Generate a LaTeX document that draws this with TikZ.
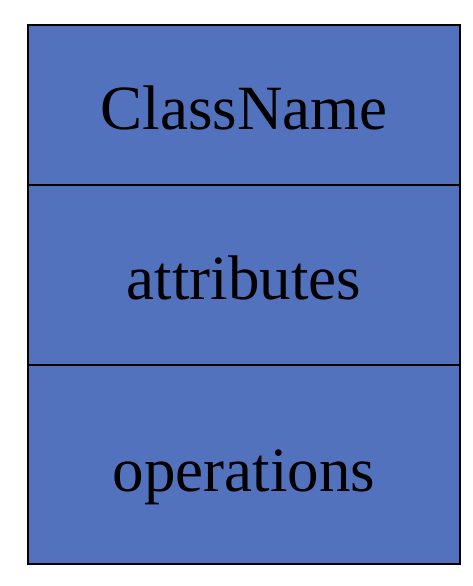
\documentclass[tikz,border=0pt]{standalone}
\usepackage{fontspec}
\setmainfont{Liberation Serif}
\definecolor{boxblue}{RGB}{82,114,190}
\begin{document}
\begin{tikzpicture}[x=1pt,y=1pt,
  part/.style={draw=black,line width=2pt,fill=boxblue},
  label/.style={font=\fontsize{63}{70}\selectfont,text=black,anchor=base,inner sep=0pt}]
\useasboundingbox (0,0) rectangle (472,586);
\path[part] (28,401) rectangle (460,561);
\path[part] (28,221) rectangle (460,401);
\path[part] (28,22) rectangle (460,221);
\node[label] (cn) at (244,456) {ClassName};
\node[label] (at) at (244,286) {attributes};
\node[label] (op) at (244,94) {operations};
\end{tikzpicture}
\end{document}
